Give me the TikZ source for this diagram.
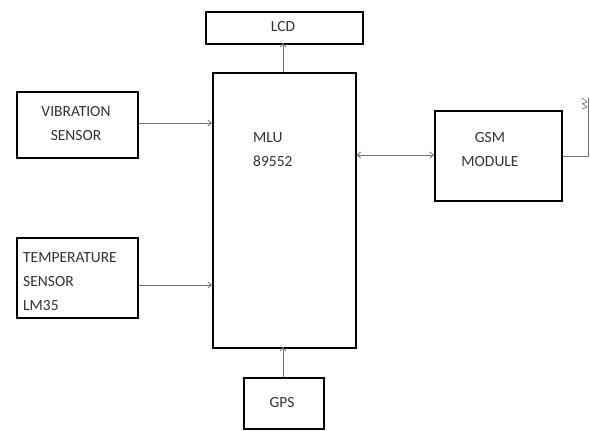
\documentclass[tikz,border=0pt]{standalone}
\usepackage{fontspec}
\setmainfont{Carlito}
\usetikzlibrary{arrows.meta}
\begin{document}
\begin{tikzpicture}[x=1pt,y=-1pt,
  box/.style={draw=black,line width=1.6pt,inner sep=0pt,anchor=north west},
  lbl/.style={font=\fontsize{15.5}{24}\selectfont,text=black!80,inner sep=0pt},
  conn/.style={draw=black!55,line width=0.8pt,-{Straight Barb[length=3.5pt,width=6pt]}},
  conn2/.style={draw=black!55,line width=0.8pt,{Straight Barb[length=3.5pt,width=6pt]}-{Straight Barb[length=3.5pt,width=6pt]}}]
\useasboundingbox (0,0) rectangle (590,431);
% boxes
\node[box,minimum width=157pt,minimum height=32pt] (lcd) at (205,11) {};
\node[box,minimum width=143pt,minimum height=275pt] (mlu) at (212,72) {};
\node[box,minimum width=121pt,minimum height=66pt] (vib) at (16,91) {};
\node[box,minimum width=121pt,minimum height=80pt] (temp) at (16,237) {};
\node[box,minimum width=80pt,minimum height=51pt] (gps) at (243,377) {};
\node[box,minimum width=127pt,minimum height=90pt] (gsm) at (434,110) {};
% texts
\node[lbl] (tlcd) at (283,27) {LCD};
\node[lbl,align=center] (tvib) at (76,124) {VIBRATION\\SENSOR};
\node[lbl,align=left,anchor=west] (ttemp) at (23,282) {TEMPERATURE\\SENSOR\\LM35};
\node[lbl,align=left,anchor=north west] (tmlu) at (253,132) {MLU\\89552};
\node[lbl] (tgps) at (282,403) {GPS};
\node[lbl,align=center] (tgsm) at (490,150) {GSM\\MODULE};
% connectors
\coordinate (mlutop) at (283,72);
\coordinate (lcdbot) at (283,43);
\draw[conn] (mlutop) -- (lcdbot);
\coordinate (gpstop) at (283,377);
\coordinate (mlubot) at (283,347);
\draw[conn] (gpstop) -- (mlubot);
\draw[conn] (vib.east |- 0,123) -- (mlu.west |- 0,123);
\draw[conn] (temp.east |- 0,285) -- (mlu.west |- 0,285);
\draw[conn2] (mlu.east |- 0,155) -- (gsm.west |- 0,155);
% antenna
\coordinate (ant) at (588,98);
\draw[black!55,line width=0.8pt] (gsm.east |- 0,156) -| (ant);
\draw[black!55,line width=0.7pt] (582,98) -- (587,102) -- (582,104);
\draw[black!55,line width=0.7pt] (582,103) -- (587,107) -- (582,109);
\end{tikzpicture}
\end{document}
